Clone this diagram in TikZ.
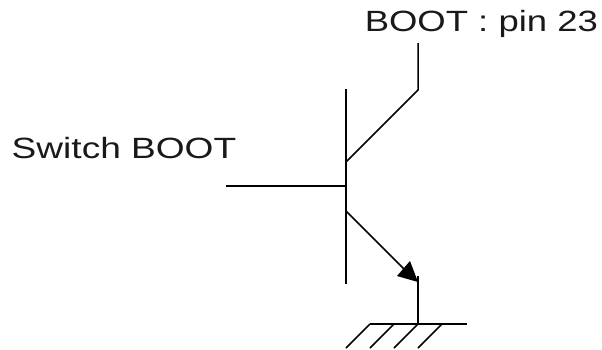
\documentclass[tikz,border=0pt]{standalone}
\usepackage{fontspec}
\setmainfont[FakeStretch=1.245]{Liberation Sans}
\newfontfamily\swfont[FakeStretch=1.265]{Liberation Sans}
\begin{document}
\begin{tikzpicture}[x=1pt,y=-1pt,line width=1.5pt,
 lbl/.style={inner sep=0pt,anchor=base west,font=\fontsize{29.3}{32}\selectfont,text=black!90}]
\useasboundingbox (0,0) rectangle (602,349);
\node[lbl] (boot) at (364,31) {BOOT : pin 23};
\node[lbl] (sw) at (11,158.5) {\swfont Switch BOOT};
\coordinate (c1) at (418,43);
\coordinate (c2) at (418,90);
\coordinate (c3) at (346,162);
\coordinate (bt) at (346,89);
\coordinate (bb) at (346,284);
\coordinate (bl) at (226,186);
\coordinate (br) at (346,186);
\coordinate (e1) at (346,211);
\coordinate (e2) at (404,269);
\coordinate (e3) at (418,276);
\coordinate (e4) at (418,324);
\coordinate (tip) at (418,282);
\coordinate (a1) at (410,261);
\coordinate (a2) at (397,276);
\draw (c1) -- (c2) -- (c3);
\draw (bt) -- (bb);
\draw (bl) -- (br);
\draw (e1) -- (e2);
\draw (e3) -- (e4);
\fill (tip) -- (a1) -- (a2) -- cycle;
\coordinate (g1) at (370,324);
\coordinate (g2) at (467,324);
\draw (g1) -- (g2);
\foreach \x in {370,394,418,442} \draw (\x,324) -- (\x-24,348);
\end{tikzpicture}
\end{document}
